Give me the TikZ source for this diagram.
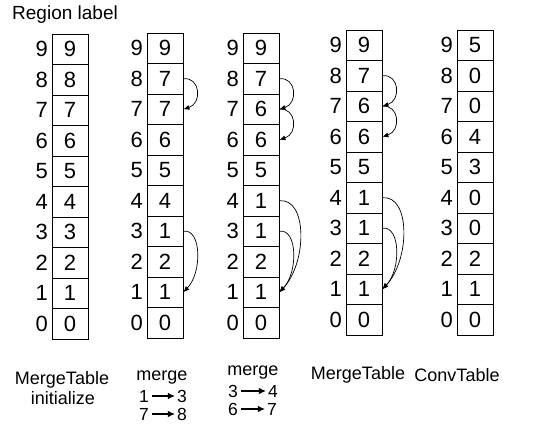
\documentclass[tikz,border=0pt]{standalone}
\usepackage{fontspec}
\setmainfont{Liberation Sans}
\usetikzlibrary{arrows.meta}

\tikzset{
  cell/.style={draw, line width=0.8pt, minimum width=36pt, minimum height=30.5pt,
               inner sep=0pt, font=\fontsize{22}{24}\selectfont},
  rowlab/.style={inner sep=0pt, anchor=east, font=\fontsize{22}{24}\selectfont},
  caption/.style={inner sep=0pt, font=\fontsize{18}{20}\selectfont},
  capdigit/.style={inner sep=0pt, font=\fontsize{17.5}{18}\selectfont},
  caparrow/.style={line width=1.1pt, shorten <=3pt, shorten >=2pt,
                   -{Latex[length=7pt,width=6.5pt]}},
  link/.style={line width=0.7pt, -{Latex[length=6pt,width=5pt]}}
}

% one column of region labels: name, left x, top y, values from row 9 down to row 0
\newcommand\regioncol[4]{%
  \foreach \v [count=\i from 0] in {#4} {%
    \pgfmathtruncatemacro\r{9-\i}%
    \node[cell] (#1r\r) at (#2+18, #3+15.25+30.5*\i) {\v};
    \node[rowlab] (#1l\r) at (#2-4, #3+15.25+30.5*\i) {\r};
  }%
}

% a caption line "p -> q": name, x of p, x of q, y, p, q
\newcommand\mergepair[6]{%
  \node[capdigit] (#1p) at (#2,#4) {#5};
  \node[capdigit] (#1q) at (#3,#4) {#6};
  \draw[caparrow] (#1p) -- (#1q);
}

\begin{document}
\begin{tikzpicture}[x=1pt,y=-1pt]
  \useasboundingbox (0,0) rectangle (538,432);

  \node[caption, font=\fontsize{19}{21}\selectfont, anchor=west] (title) at (12,15) {Region label};

  \regioncol{a}{52}{34}{9,8,7,6,5,4,3,2,1,0}
  \regioncol{b}{147}{33}{9,7,7,6,5,4,1,2,1,0}
  \regioncol{c}{243}{33}{9,7,6,6,5,1,1,2,1,0}
  \regioncol{d}{346}{30}{9,7,6,6,5,1,1,2,1,0}
  \regioncol{e}{457}{30}{5,0,0,4,3,0,0,2,1,0}

  % merge 1->3 and 7->8
  \draw[link] (br8.east) .. controls +(17,-2) and +(19,-6) .. (br7.east);
  \draw[link] (br3.east) .. controls +(18,-3) and +(19,-20) .. (br1.east);

  % merge 3->4 and 6->7
  \draw[link] (cr8.east) .. controls +(17,-2) and +(19,-6) .. (cr7.east);
  \draw[link] (cr7.east) .. controls +(17,-2) and +(19,-6) .. (cr6.east);
  \draw[link] (cr4.east) .. controls +(28,-3) and +(28,-30) .. (cr1.east);
  \draw[link] (cr3.east) .. controls +(18,-3) and +(19,-20) .. (cr1.east);

  % resulting merge table
  \draw[link] (dr8.east) .. controls +(17,-2) and +(19,-6) .. (dr7.east);
  \draw[link] (dr7.east) .. controls +(17,-2) and +(19,-6) .. (dr6.east);
  \draw[link] (dr4.east) .. controls +(28,-3) and +(28,-30) .. (dr1.east);
  \draw[link] (dr3.east) .. controls +(18,-3) and +(19,-20) .. (dr1.east);

  % captions
  \node[caption] (capa1) at (62,380) {MergeTable};
  \node[caption] (capa2) at (63,398) {initialize};
  \node[caption] (capb1) at (162,378) {merge};
  \mergepair{mb1}{144}{182}{396}{1}{3}
  \mergepair{mb2}{144}{182}{414}{7}{8}
  \node[caption] (capc1) at (253,373) {merge};
  \mergepair{mc1}{233}{273}{391}{3}{4}
  \mergepair{mc2}{233}{272}{409}{6}{7}
  \node[caption] (capd1) at (358,375) {MergeTable};
  \node[caption] (cape1) at (457,375) {ConvTable};
\end{tikzpicture}
\end{document}
